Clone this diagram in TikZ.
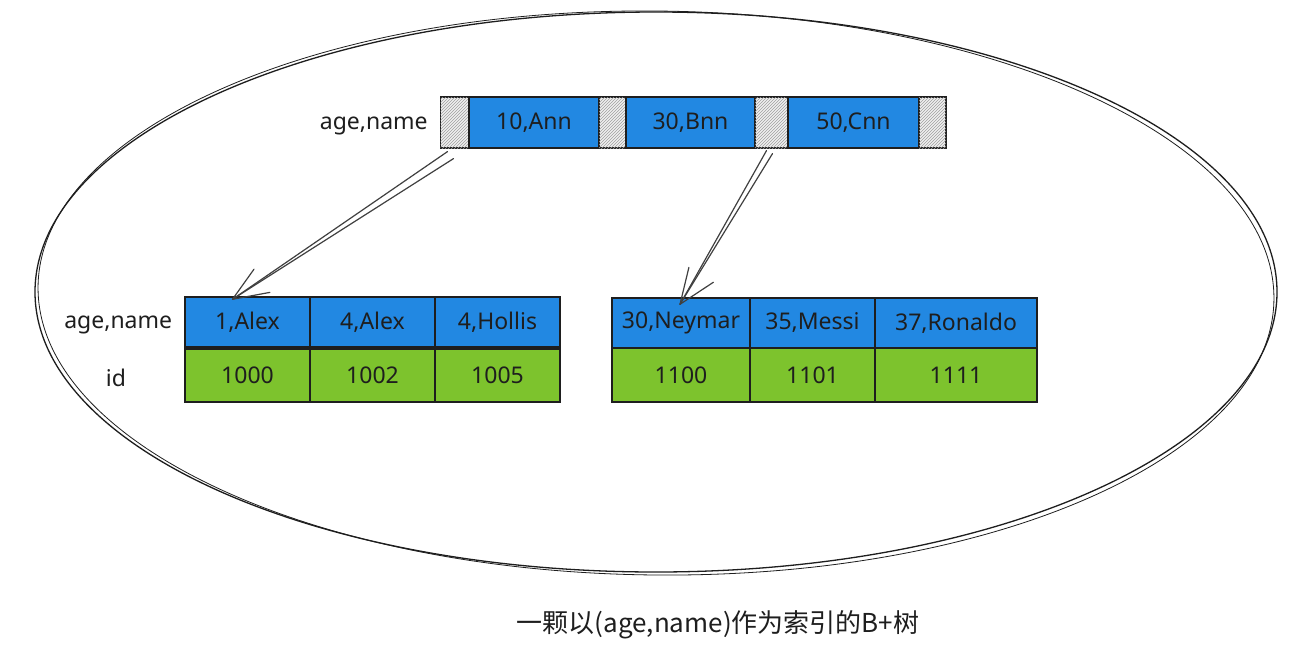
\documentclass[tikz,border=0pt]{standalone}
\usepackage{fontspec}
\setmainfont{Noto Sans}
\newfontfamily\cjk{Noto Sans CJK SC}
\usetikzlibrary{patterns,calc}
\definecolor{cellblue}{RGB}{34,136,226}
\definecolor{cellgreen}{RGB}{125,195,45}
\definecolor{ink}{RGB}{30,30,30}
\tikzset{
  cell/.style={draw=ink, line width=1.4pt, rectangle, inner sep=0pt, text=ink,
    font=\fontsize{23}{27}\selectfont},
  keycell/.style={cell, fill=cellblue},
  idcell/.style={cell, fill=cellgreen},
  hatch/.style={draw=ink, line width=1.2pt, rectangle, inner sep=0pt,
    fill=gray!12, postaction={pattern=north east lines, pattern color=gray!75},
    minimum width=#1, minimum height=51pt},
  lbl/.style={text=ink, font=\fontsize{23}{27}\selectfont, inner sep=0pt},
  ptr/.style={draw=ink!85, line width=1.2pt, line cap=round, line join=round},
  oval/.style={draw=ink, line width=1.3pt}
}
\begin{document}
\begin{tikzpicture}[x=1pt,y=-1pt]
\useasboundingbox (0,0) rectangle (1311,654);
\fill[white] (0,0) rectangle (1311,654);

% outer sketchy ellipse
\draw[oval] (656,292) ellipse [x radius=621, y radius=280];
\draw[oval, line width=0.8pt, rotate around={-0.6:(656,292)}] (656,293) ellipse [x radius=618, y radius=282];

% root node
\node[hatch=28pt] (h1) at (454.5,122.5) {};
\node[keycell, minimum width=130pt, minimum height=51pt] (b1) at (534,122.5) {10,Ann};
\node[hatch=27pt] (h2) at (612.5,122.5) {};
\node[keycell, minimum width=129pt, minimum height=51pt] (b2) at (690.5,122.5) {30,Bnn};
\node[hatch=33pt] (h3) at (771.5,122.5) {};
\node[keycell, minimum width=131pt, minimum height=51pt] (b3) at (853.5,122.5) {50,Cnn};
\node[hatch=27pt] (h4) at (932.5,122.5) {};
\node[lbl, anchor=east] (toplbl) at ([xshift=-12pt,yshift=-3pt]h1.west) {age,name};

% left leaf
\node[keycell, minimum width=125pt, minimum height=50pt] (l1) at (247.5,322) {1,Alex};
\node[keycell, minimum width=125pt, minimum height=50pt] (l2) at (372.5,322) {4,Alex};
\node[keycell, minimum width=125pt, minimum height=50pt] (l3) at (497.5,322) {4,Hollis};
\node[idcell, minimum width=125pt, minimum height=53pt] (i1) at (247.5,375.5) {1000};
\node[idcell, minimum width=125pt, minimum height=53pt] (i2) at (372.5,375.5) {1002};
\node[idcell, minimum width=125pt, minimum height=53pt] (i3) at (497.5,375.5) {1005};
\node[lbl, anchor=east] (leftkey) at ([xshift=-12pt,yshift=-3pt]l1.west) {age,name};
\node[lbl] (leftid) at (116,378) {id};

% right leaf
\node[keycell, minimum width=138pt, minimum height=50pt] (r1) at (681,323) {30,Neymar};
\node[keycell, minimum width=125pt, minimum height=50pt] (r2) at (812.5,323) {35,Messi};
\node[keycell, minimum width=162pt, minimum height=50pt] (r3) at (956,323) {37,Ronaldo};
\node[idcell, minimum width=138pt, minimum height=54pt] (j1) at (681,375) {1100};
\node[idcell, minimum width=125pt, minimum height=54pt] (j2) at (812.5,375) {1101};
\node[idcell, minimum width=162pt, minimum height=54pt] (j3) at (956,375) {1111};

% pointers (sketchy double strokes with open barbs)
\coordinate (tipL) at ([xshift=-15pt,yshift=-3pt]l1.north);
\coordinate (tipR) at ([xshift=-1pt,yshift=-7pt]r1.north);
\coordinate (sL1) at ([xshift=-7pt,yshift=-3pt]h1.south);
\coordinate (sL2) at ([xshift=-1pt,yshift=-10pt]h1.south);
\coordinate (sR1) at ([xshift=-5pt,yshift=-2pt]h3.south);
\coordinate (sR2) at ([xshift=1pt,yshift=-5pt]h3.south);
\coordinate (bL1) at ($(tipL)!38pt!-22:(sL2)$);
\coordinate (bL2) at ($(tipL)!37pt!22:(sL2)$);
\coordinate (bR1) at ($(tipR)!40pt!-25:(sR2)$);
\coordinate (bR2) at ($(tipR)!38pt!18:(sR2)$);
\draw[ptr] (sL1) -- (tipL);
\draw[ptr] (sL2) -- (tipL);
\draw[ptr] (bL1) -- (tipL) -- (bL2);
\draw[ptr] (sR1) -- (tipR);
\draw[ptr] (sR2) -- (tipR);
\draw[ptr] (bR1) -- (tipR) -- (bR2);

% caption
\node[text=ink, font=\fontsize{26}{30}\selectfont, inner sep=0pt] (cap) at (718,625) {\cjk 一颗以(age,name)作为索引的B+树};
\end{tikzpicture}
\end{document}
